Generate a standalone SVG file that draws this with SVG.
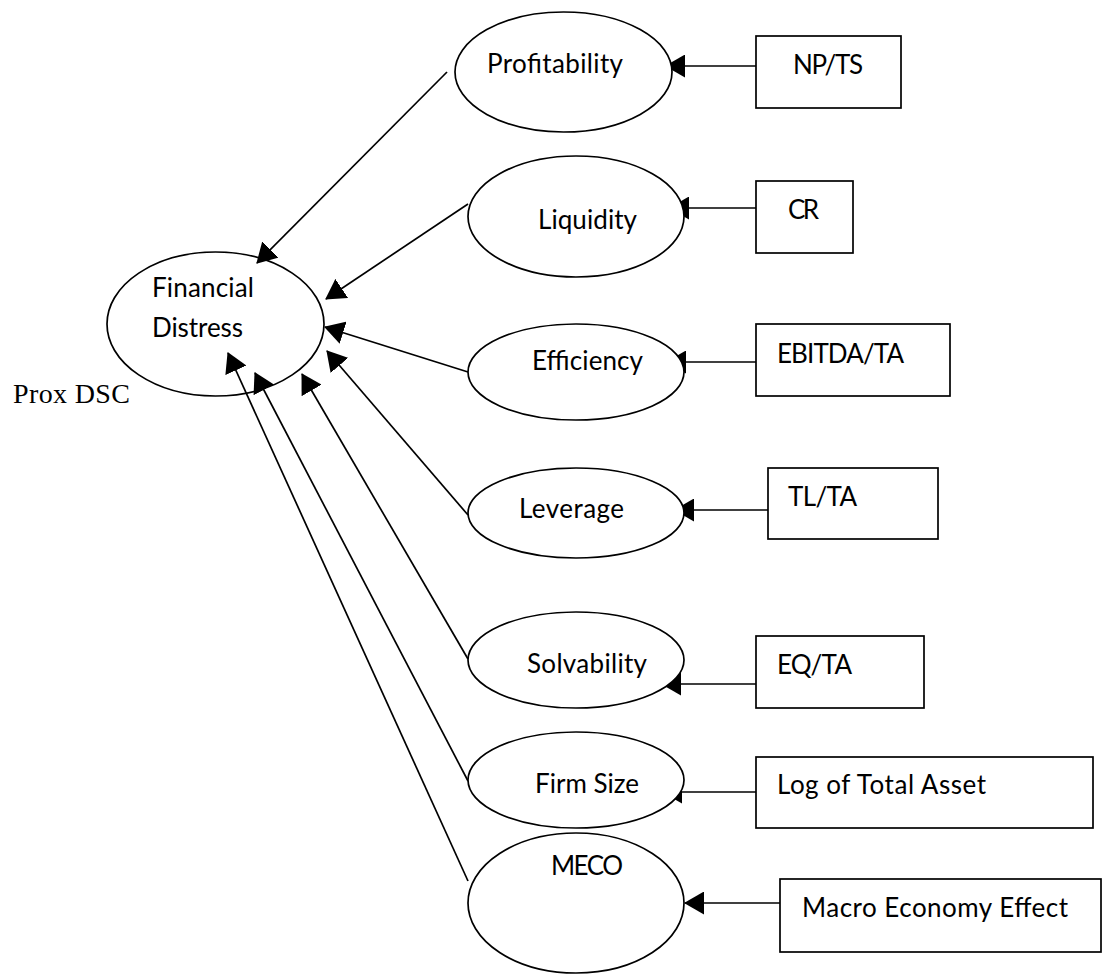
<svg xmlns="http://www.w3.org/2000/svg" width="1108" height="975" viewBox="0 0 1108 975">
<style>
.n{fill:#fff;stroke:#000;stroke-width:1.7}
.t{font-family:Lato,"Open Sans","Liberation Sans",sans-serif;font-size:26px;fill:#000}
.s{font-family:"Liberation Serif","Times New Roman",serif;font-size:28px;fill:#000}
.c{stroke:#000;stroke-width:1.7;fill:none;marker-end:url(#ah)}
</style>
<defs>
<marker id="ah" viewBox="0 0 20 23" refX="19" refY="11.5" markerWidth="20" markerHeight="23" markerUnits="userSpaceOnUse" orient="auto">
<path d="M0,0 L20,11.5 L0,23 Z" fill="#000"/>
</marker>
</defs>
<rect width="1108" height="975" fill="#fff"/>
<g id="connectors">
<line class="c" x1="760" y1="66" x2="666" y2="66"/>
<line class="c" x1="765" y1="208" x2="670" y2="208"/>
<line class="c" x1="763" y1="362" x2="667" y2="362"/>
<line class="c" x1="770" y1="510" x2="675" y2="510"/>
<line class="c" x1="756" y1="684" x2="662" y2="684"/>
<line class="c" x1="758" y1="792" x2="663" y2="792"/>
<line class="c" x1="780" y1="903" x2="685" y2="903"/>
<line class="c" x1="447" y1="72" x2="257" y2="263"/>
<line class="c" x1="468" y1="204" x2="326" y2="299"/>
<line class="c" x1="468" y1="372" x2="325" y2="327"/>
<line class="c" x1="468" y1="515" x2="327" y2="351"/>
<line class="c" x1="468" y1="659" x2="302" y2="374"/>
<line class="c" x1="468" y1="781" x2="255" y2="373"/>
<line class="c" x1="468" y1="881" x2="228" y2="353"/>
</g>
<g id="financial-distress">
<ellipse class="n" cx="215.5" cy="324" rx="108.5" ry="72" style="fill:none"/>
<text class="t" x="152" y="297" textLength="102">Financial</text>
<text class="t" x="152" y="337" textLength="91">Distress</text>
</g>
<g id="prox-dsc"><text class="s" x="13" y="403" textLength="117">Prox DSC</text></g>
<g id="profitability">
<ellipse class="n" cx="563.5" cy="72" rx="108.5" ry="60"/>
<text class="t" x="487" y="73" textLength="136">Profitability</text>
</g>
<g id="liquidity">
<ellipse class="n" cx="576" cy="216.5" rx="108" ry="60.5"/>
<text class="t" x="538" y="229" textLength="99">Liquidity</text>
</g>
<g id="efficiency">
<ellipse class="n" cx="576" cy="372" rx="108" ry="48"/>
<text class="t" x="532" y="370" textLength="111">Efficiency</text>
</g>
<g id="leverage">
<ellipse class="n" cx="576" cy="513" rx="108" ry="45"/>
<text class="t" x="519" y="518" textLength="105">Leverage</text>
</g>
<g id="solvability">
<ellipse class="n" cx="576" cy="660" rx="108" ry="48"/>
<text class="t" x="527" y="673" textLength="120">Solvability</text>
</g>
<g id="firm-size">
<ellipse class="n" cx="576" cy="780" rx="108" ry="48"/>
<text class="t" x="535" y="793" textLength="104">Firm Size</text>
</g>
<g id="meco">
<ellipse class="n" cx="576" cy="903" rx="108" ry="70"/>
<text class="t" x="551" y="875" textLength="72">MECO</text>
</g>
<g id="np-ts">
<rect class="n" x="756" y="36" width="145" height="72"/>
<text class="t" x="793" y="74" textLength="70">NP/TS</text>
</g>
<g id="cr">
<rect class="n" x="756" y="181" width="97" height="72"/>
<text class="t" x="788" y="219" textLength="31">CR</text>
</g>
<g id="ebitda-ta">
<rect class="n" x="756" y="324" width="194" height="72"/>
<text class="t" x="777" y="363" textLength="127">EBITDA/TA</text>
</g>
<g id="tl-ta">
<rect class="n" x="768" y="468" width="170" height="71"/>
<text class="t" x="788" y="506" textLength="69">TL/TA</text>
</g>
<g id="eq-ta">
<rect class="n" x="756" y="636" width="168" height="72"/>
<text class="t" x="777" y="674" textLength="75">EQ/TA</text>
</g>
<g id="log-total-asset">
<rect class="n" x="756" y="757" width="337" height="71"/>
<text class="t" x="777" y="794" textLength="209">Log of Total Asset</text>
</g>
<g id="macro-economy-effect">
<rect class="n" x="780" y="879" width="321" height="73"/>
<text class="t" x="802" y="917" textLength="266">Macro Economy Effect</text>
</g>
</svg>
